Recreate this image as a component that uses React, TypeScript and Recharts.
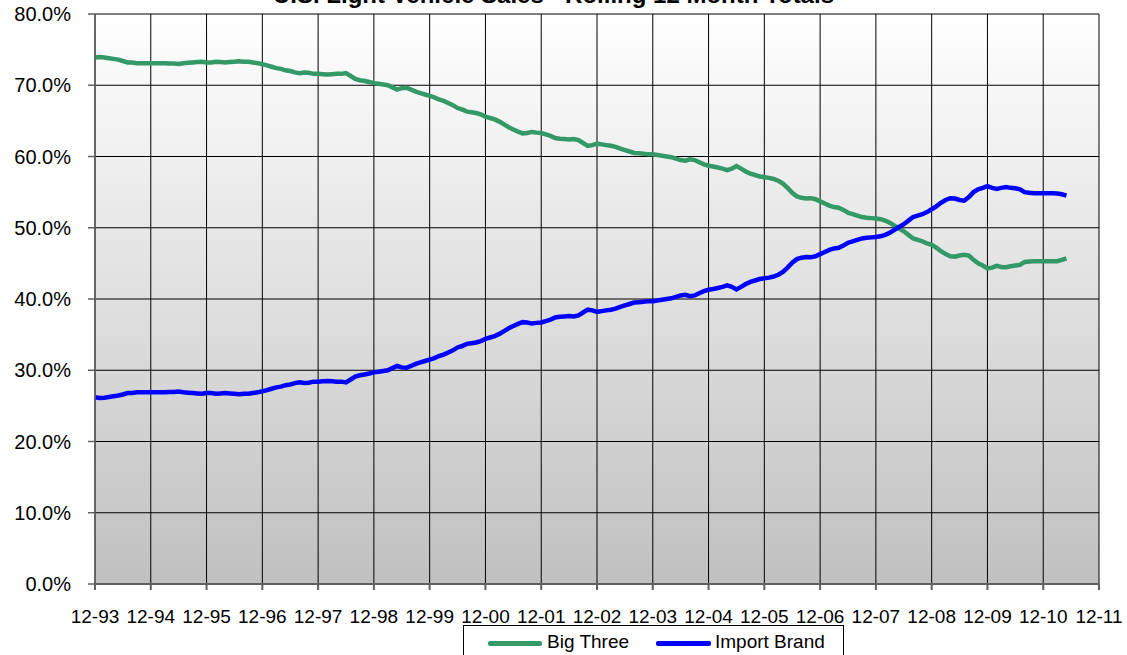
import { LineChart, Line, XAxis, YAxis, CartesianGrid } from 'recharts';

// rolling 12 month share, one value per month starting 12-93
const bigThree = [
  73.9, 73.95, 73.9, 73.8, 73.7, 73.6, 73.4, 73.2, 73.2, 73.1, 73.1, 73.1,
  73.1, 73.1, 73.1, 73.1, 73.05, 73.05, 73.0, 73.1, 73.15, 73.2, 73.25, 73.3,
  73.2, 73.2, 73.3, 73.25, 73.2, 73.25, 73.3, 73.35, 73.3, 73.3, 73.2, 73.1,
  72.95, 72.8, 72.6, 72.4, 72.3, 72.1, 72.0, 71.8, 71.7, 71.8, 71.75, 71.6,
  71.6, 71.55, 71.5, 71.55, 71.6, 71.6, 71.7, 71.3, 70.9, 70.7, 70.6, 70.45,
  70.3, 70.2, 70.1, 70.0, 69.7, 69.4, 69.6, 69.65, 69.4, 69.1, 68.9, 68.7,
  68.5, 68.3, 68.0, 67.8, 67.5, 67.2, 66.8, 66.6, 66.3, 66.2, 66.1, 65.9,
  65.6, 65.4, 65.2, 64.9, 64.5, 64.1, 63.8, 63.5, 63.25, 63.3, 63.45, 63.35,
  63.3, 63.1, 62.9, 62.6, 62.5, 62.45, 62.4, 62.45, 62.3, 61.9, 61.5, 61.6,
  61.8, 61.7, 61.6, 61.5, 61.35, 61.1, 60.9, 60.7, 60.5, 60.45, 60.4, 60.3,
  60.3, 60.2, 60.1, 60.0, 59.9, 59.7, 59.5, 59.4, 59.6, 59.5, 59.2, 58.9,
  58.7, 58.6, 58.45, 58.3, 58.1, 58.3, 58.65, 58.3, 57.9, 57.6, 57.4, 57.2,
  57.1, 57.0, 56.85, 56.6, 56.2, 55.6, 54.9, 54.4, 54.2, 54.1, 54.15, 54.0,
  53.7, 53.4, 53.1, 52.9, 52.8, 52.5, 52.1, 51.9, 51.7, 51.5, 51.4, 51.35,
  51.3, 51.2, 51.0, 50.7, 50.3, 49.9, 49.5, 49.0, 48.5, 48.3, 48.1, 47.8,
  47.6, 47.2, 46.7, 46.3, 46.0, 45.95, 46.1, 46.2, 46.1, 45.5, 45.0, 44.7,
  44.3, 44.4, 44.65, 44.5, 44.45, 44.6, 44.7, 44.8, 45.2, 45.25, 45.3, 45.3,
  45.3, 45.3, 45.3, 45.3, 45.5, 45.7,
];

const importBrand = [
  26.2, 26.1, 26.15, 26.25, 26.35, 26.45, 26.6, 26.8, 26.8, 26.9, 26.9, 26.9,
  26.9, 26.9, 26.9, 26.9, 26.95, 26.95, 27.0, 26.9, 26.85, 26.8, 26.75, 26.7,
  26.8, 26.8, 26.7, 26.75, 26.8, 26.75, 26.7, 26.65, 26.7, 26.7, 26.8, 26.9,
  27.05, 27.2, 27.4, 27.6, 27.7, 27.9, 28.0, 28.2, 28.3, 28.2, 28.25, 28.4,
  28.4, 28.45, 28.5, 28.45, 28.4, 28.4, 28.3, 28.7, 29.1, 29.3, 29.4, 29.55,
  29.7, 29.8, 29.9, 30.0, 30.3, 30.6, 30.4, 30.35, 30.6, 30.9, 31.1, 31.3,
  31.5, 31.7, 32.0, 32.2, 32.5, 32.8, 33.2, 33.4, 33.7, 33.8, 33.9, 34.1,
  34.4, 34.6, 34.8, 35.1, 35.5, 35.9, 36.2, 36.5, 36.75, 36.7, 36.55, 36.65,
  36.7, 36.9, 37.1, 37.4, 37.5, 37.55, 37.6, 37.55, 37.7, 38.1, 38.5, 38.4,
  38.2, 38.3, 38.4, 38.5, 38.65, 38.9, 39.1, 39.3, 39.5, 39.55, 39.6, 39.7,
  39.7, 39.8, 39.9, 40.0, 40.1, 40.3, 40.5, 40.6, 40.4, 40.5, 40.8, 41.1,
  41.3, 41.4, 41.55, 41.7, 41.9, 41.7, 41.35, 41.7, 42.1, 42.4, 42.6, 42.8,
  42.9, 43.0, 43.15, 43.4, 43.8, 44.4, 45.1, 45.6, 45.8, 45.9, 45.85, 46.0,
  46.3, 46.6, 46.9, 47.1, 47.2, 47.5, 47.9, 48.1, 48.3, 48.5, 48.6, 48.65,
  48.7, 48.8, 49.0, 49.3, 49.7, 50.1, 50.5, 51.0, 51.5, 51.7, 51.9, 52.2,
  52.6, 53.0, 53.5, 53.9, 54.15, 54.1, 53.9, 53.8, 54.3, 55.0, 55.4, 55.6,
  55.85, 55.6, 55.45, 55.6, 55.7, 55.6, 55.55, 55.4, 55.0, 54.9, 54.85, 54.85,
  54.85, 54.85, 54.85, 54.8, 54.7, 54.5,
];

const tickLabels = [
  '12-93', '12-94', '12-95', '12-96', '12-97', '12-98', '12-99', '12-00', '12-01', '12-02',
  '12-03', '12-04', '12-05', '12-06', '12-07', '12-08', '12-09', '12-10', '12-11',
];

const yTicks = [0, 10, 20, 30, 40, 50, 60, 70, 80];

const GREEN = '#339966';
const BLUE = '#0000ff';
const FONT = 'Arial, "Liberation Sans", sans-serif';

const data = bigThree.map((v, i) => ({ m: i, bigThree: v, importBrand: importBrand[i] }));
const xTicks = tickLabels.map((_, i) => i * 12);

export default function App() {
  return (
    <div style={{ position: 'absolute', left: 0, top: 0, width: 1127, height: 655, overflow: 'hidden', background: '#fff', fontFamily: FONT }}>
      <div
        style={{
          position: 'absolute',
          left: 0,
          width: 1107,
          top: -17,
          textAlign: 'center',
          fontSize: 24,
          lineHeight: '24px',
          fontWeight: 'bold',
          color: '#000',
        }}
      >
        U.S. Light Vehicle Sales - Rolling 12 Month Totals
      </div>
      <LineChart width={1127} height={655} data={data} margin={{ top: 14, right: 28, bottom: 41, left: 35 }}>
        <defs>
          <linearGradient id="plotBg" x1="0" y1="0" x2="0" y2="1">
            <stop offset="0%" stopColor="#ffffff" />
            <stop offset="100%" stopColor="#c0c0c0" />
          </linearGradient>
        </defs>
        <CartesianGrid stroke="#000" strokeWidth={1} fill="url(#plotBg)" fillOpacity={1} />
        <XAxis
          dataKey="m"
          type="number"
          domain={[0, 216]}
          ticks={xTicks}
          tickFormatter={(v: number) => tickLabels[Math.round(v / 12)]}
          interval={0}
          height={30}
          tickSize={6}
          tickMargin={20}
          stroke="#606060"
          strokeWidth={2}
          tick={{ fill: '#000', fontSize: 19, fontFamily: FONT }}
        />
        <YAxis
          domain={[0, 80]}
          ticks={yTicks}
          width={60}
          interval={0}
          tickSize={7}
          tickMargin={17}
          stroke="#606060"
          strokeWidth={1.5}
          tickFormatter={(v: number) => v.toFixed(1) + '%'}
          tick={{ fill: '#000', fontSize: 20, fontFamily: FONT }}
        />
        <Line type="linear" dataKey="bigThree" stroke={GREEN} strokeWidth={4.5} dot={false} isAnimationActive={false} />
        <Line type="linear" dataKey="importBrand" stroke={BLUE} strokeWidth={4.5} dot={false} isAnimationActive={false} />
      </LineChart>
      <div
        style={{
          position: 'absolute',
          left: 463,
          top: 625,
          width: 381,
          height: 40,
          border: '1px solid #000',
          background: '#fff',
          boxSizing: 'border-box',
          fontSize: 19,
          color: '#000',
        }}
      >
        <div style={{ position: 'absolute', left: 24, top: 15, width: 54, height: 5, background: GREEN, borderRadius: 2 }} />
        <div style={{ position: 'absolute', left: 83, top: 5, lineHeight: '22px' }}>Big Three</div>
        <div style={{ position: 'absolute', left: 192, top: 15, width: 55, height: 5, background: BLUE, borderRadius: 2 }} />
        <div style={{ position: 'absolute', left: 251, top: 5, lineHeight: '22px' }}>Import Brand</div>
      </div>
    </div>
  );
}
